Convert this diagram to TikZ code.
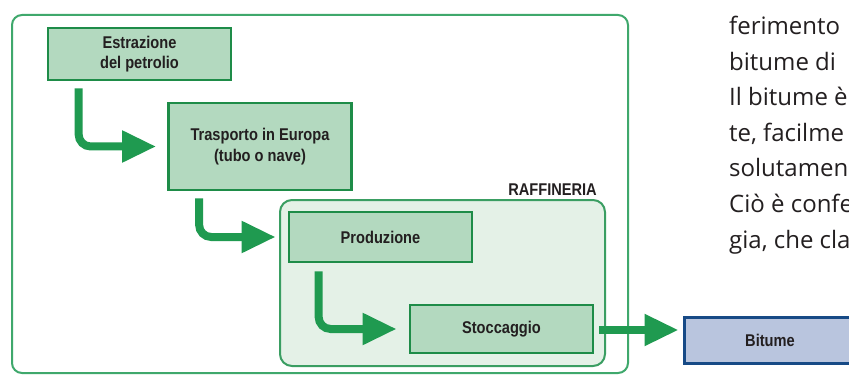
\documentclass[tikz,border=0pt]{standalone}
\usepackage{fontspec}
\setmainfont{Open Sans}
\newfontfamily\labfont[FakeStretch=0.86]{Liberation Sans}
\usetikzlibrary{arrows.meta,calc}
\definecolor{gline}{HTML}{1E8C48}
\definecolor{gfill}{HTML}{B3D9BF}
\definecolor{garrow}{HTML}{1F9A50}
\definecolor{rfill}{HTML}{E4F1E7}
\definecolor{rline}{HTML}{3A9E62}
\definecolor{oline}{HTML}{3FA86C}
\definecolor{bfill}{HTML}{B9C5DE}
\definecolor{bline}{HTML}{174A86}
\definecolor{txt}{HTML}{231F20}
\begin{document}
\begin{tikzpicture}[x=1pt,y=-1pt,
  lab/.style={font=\labfont\bfseries\fontsize{17}{20.5}\selectfont, text=txt},
  stepbox/.style={lab, draw=gline, line width=2.7pt, fill=gfill, minimum width=183pt, inner sep=0pt, align=center},
  flow/.style={draw=garrow, line width=8pt, rounded corners=12pt, -{Triangle[length=34pt,width=30pt]}},
  prose/.style={anchor=base west, inner sep=0pt, font=\fontsize{24}{30}\selectfont, text=txt}]
\useasboundingbox (0,0) rectangle (849,377);
\clip (0,0) rectangle (849,377);
\fill[white] (0,0) rectangle (849,377);
% frames
\node[draw=oline, line width=2pt, fill=white, rounded corners=10pt, minimum width=616pt, minimum height=358pt, inner sep=0pt] (outer) at (320,194) {};
\node[draw=rline, line width=2pt, fill=rfill, rounded corners=12pt, minimum width=325pt, minimum height=166pt, inner sep=0pt] (raff) at (442.5,283) {};
\node[lab, anchor=east, inner sep=0pt] (rlab) at (597,190) {RAFFINERIA};
% steps
\node[stepbox, minimum height=52pt] (estr) at (139.5,54) {Estrazione\\del petrolio};
\node[stepbox, minimum height=87pt] (trans) at (260,146.5) {Trasporto in Europa\\(tubo o nave)};
\node[stepbox, minimum height=50pt] (prod) at (380.5,237) {Produzione};
\node[stepbox, minimum height=48pt] (stoc) at (501.5,329) {Stoccaggio};
\node[lab, draw=bline, line width=3pt, fill=bfill, minimum width=172pt, minimum height=46pt, inner sep=0pt] (bit) at (770,340) {Bitume};
% connectors
\draw[flow] ([xshift=32pt,yshift=-7pt]estr.south west) |- ([xshift=-11pt]trans.west);
\draw[flow] ([xshift=32pt,yshift=-7pt]trans.south west) |- ([xshift=-12pt]prod.west);
\draw[flow] ([xshift=31pt,yshift=-8pt]prod.south west) |- ([xshift=-12pt]stoc.west);
\draw[flow] ([xshift=5pt,yshift=-1pt]stoc.east) -- ([xshift=-4pt,yshift=-1pt]stoc.east -| bit.west);
% running text cut by the frame of the page
\node[prose] (t1) at (729,35) {ferimento};
\node[prose] (t2) at (729,70.5) {bitume di};
\node[prose] (t3) at (729,106) {Il bitume è};
\node[prose] (t4) at (729,141.5) {te, facilme};
\node[prose] (t5) at (729,177) {solutamen};
\node[prose] (t6) at (729,212.5) {Ciò è confe};
\node[prose] (t7) at (729,248) {gia, che cla};
\end{tikzpicture}
\end{document}
